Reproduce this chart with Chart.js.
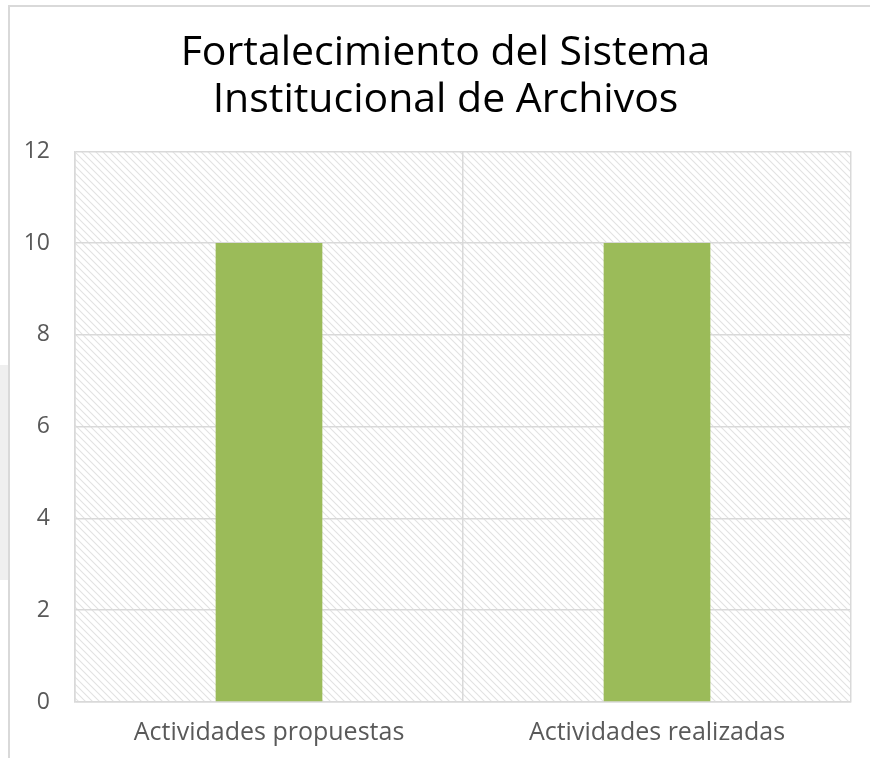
<!DOCTYPE html>
<html>
<head>
<meta charset="utf-8">
<script src="https://cdn.jsdelivr.net/npm/chart.js@4.4.0/dist/chart.umd.min.js"></script>
<style>
  html, body { margin: 0; padding: 0; background: #fff; }
  #wrap { position: relative; width: 870px; height: 758px; overflow: hidden; }
  #side { position: absolute; left: 0; top: 365px; width: 8px; height: 215px; background: #efefef; }
  #frameLeft { position: absolute; left: 8px; top: 6px; width: 2px; height: 752px; background: #d9d9d9; }
  #frameTop { position: absolute; left: 8px; top: 5px; width: 862px; height: 2px; background: #d9d9d9; }
  canvas { position: absolute; left: 0; top: 0; }
</style>
</head>
<body>
<div id="wrap">
  <div id="side"></div>
  <div id="frameLeft"></div>
  <div id="frameTop"></div>
  <canvas id="chart" width="870" height="758"></canvas>
</div>
<script>
// chart data
const titleLines = ['Fortalecimiento del Sistema', 'Institucional de Archivos'];
const categories = ['Actividades propuestas', 'Actividades realizadas'];
const values = [10, 10];
const yMin = 0;
const yMax = 12;
const yStep = 2;

const barColor = '#9BBB59';
const gridColor = '#d9d9d9';
const fontFamily = '"Open Sans", "Noto Sans", sans-serif';

// hatched background for the plot area
function makeHatch() {
    const c = document.createElement('canvas');
    c.width = 7;
    c.height = 7;
    const g = c.getContext('2d');
    g.strokeStyle = '#e2e2e2';
    g.lineWidth = 1.1;
    g.beginPath();
    g.moveTo(-2, -2); g.lineTo(9, 9);
    g.moveTo(-9, -2); g.lineTo(2, 9);
    g.moveTo(5, -2); g.lineTo(16, 9);
    g.stroke();
    return c;
}

const hatchPlugin = {
    id: 'hatch',
    afterLayout(chart) {
        // title sits centred over the whole frame, not over the plot
        if (chart.titleBlock) chart.titleBlock.left = 40;
    },
    beforeDraw(chart) {
        const {ctx, chartArea} = chart;
        ctx.save();
        ctx.fillStyle = ctx.createPattern(makeHatch(), 'repeat');
        ctx.fillRect(chartArea.left, chartArea.top, chartArea.right - chartArea.left, chartArea.bottom - chartArea.top);
        ctx.restore();
    }
};

new Chart(document.getElementById('chart').getContext('2d'), {
    type: 'bar',
    data: {
        labels: categories,
        datasets: [{
            data: values,
            backgroundColor: barColor,
            borderWidth: 0,
            barPercentage: 0.55,
            categoryPercentage: 0.5
        }]
    },
    options: {
        responsive: false,
        animation: false,
        devicePixelRatio: 1,
        layout: { padding: { left: 0, right: 19, top: 30, bottom: -5 } },
        plugins: {
            legend: { display: false },
            tooltip: { enabled: false },
            title: {
                display: true,
                text: titleLines,
                color: '#000',
                font: { family: fontFamily, size: 41, weight: 'normal', lineHeight: 1.15 },
                padding: { top: 0, bottom: 27 }
            }
        },
        scales: {
            x: {
                grid: { color: gridColor, lineWidth: 1.5, offset: true, drawTicks: false },
                border: { color: gridColor, width: 1.5 },
                ticks: {
                    color: '#595959',
                    font: { family: fontFamily, size: 25, lineHeight: 1 },
                    padding: 18
                }
            },
            y: {
                min: yMin,
                max: yMax,
                grid: { color: gridColor, lineWidth: 1.5, drawTicks: false },
                border: { color: gridColor, width: 1.5 },
                ticks: {
                    stepSize: yStep,
                    color: '#595959',
                    font: { family: fontFamily, size: 23 },
                    padding: 25
                },
                afterFit(scale) { scale.width = 75; }
            }
        }
    },
    plugins: [hatchPlugin]
});
</script>
</body>
</html>
